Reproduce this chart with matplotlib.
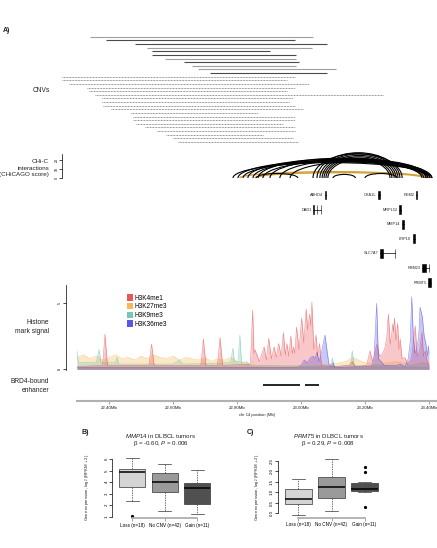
import numpy as np
import matplotlib.pyplot as plt
from matplotlib.patches import Arc, Patch

plt.rcParams['font.family'] = ['Liberation Sans', 'DejaVu Sans']
plt.rcParams['mathtext.fontset'] = 'custom'
plt.rcParams['mathtext.it'] = 'Liberation Sans:italic'
plt.rcParams['mathtext.rm'] = 'Liberation Sans'

W, H = 437, 548
XLIM = (22.30, 23.425)

# ---- panel A data (positions in Mb) ----
cnv_solid_start = [22.341, 22.391, 22.481, 22.519, 22.534, 22.534, 22.575, 22.634, 22.659, 22.678, 22.716]
cnv_solid_end = [23.038, 22.981, 23.081, 23.034, 22.903, 22.984, 22.984, 22.994, 22.984, 23.109, 23.081]
cnv_solid_type = ['gain', 'loss', 'loss', 'gain', 'loss', 'loss', 'gain', 'loss', 'gain', 'gain', 'loss']
cnv_dot_start = [22.253, 22.253, 22.275, 22.331, 22.338, 22.356, 22.378, 22.378, 22.381, 22.406,
                 22.469, 22.475, 22.475, 22.484, 22.513, 22.550, 22.578, 22.600, 22.616]
cnv_dot_end = [22.981, 22.956, 23.025, 22.981, 22.956, 23.256, 22.975, 22.963, 22.981, 23.006,
               22.866, 22.981, 22.981, 22.944, 22.981, 22.981, 22.881, 22.975, 22.991]

arc_start = [22.7875, 22.803, 22.819, 22.834, 22.850, 22.866, 22.881, 22.903, 22.934, 22.966,
             23.0375, 23.050, 23.059, 23.066, 23.072, 23.078, 23.084, 22.860, 23.100, 23.200]
arc_end = [23.409, 23.403, 23.397, 23.409, 23.391, 23.403, 23.384, 23.397, 23.391, 23.378,
           23.316, 23.309, 23.303, 23.297, 23.291, 23.284, 23.278, 22.990, 23.170, 23.300]
arc_score = [17, 19, 18, 21, 20, 22, 19, 21, 20, 18, 27, 28, 26.5, 25, 23.5, 22, 20.5, 5, 4, 5]
gold_start = [22.809, 22.856]
gold_end = [23.394, 23.3875]
gold_score = [7, 6]

gene_names = ['ABHD4', 'DAD1', 'OXA1L', 'REM2', 'MRPL52', 'MMP14', 'LRP10', 'SLC7A7', 'RBM23', 'PRMT5']
gene_start = [23.074, 23.038, 23.2416, 23.359, 23.307, 23.3145, 23.349, 23.2484, 23.378, 23.397]
gene_end = [23.079, 23.062, 23.247, 23.3635, 23.3115, 23.323, 23.355, 23.2950, 23.3995, 23.405]
gene_row = [0, 1, 0, 0, 1, 2, 3, 4, 5, 6]
gene_exons = [
    [(23.074, 0.005)],
    [(23.0380, 0.0015), (23.0485, 0.001), (23.0610, 0.001)],
    [(23.2416, 0.0054)],
    [(23.359, 0.0045)],
    [(23.307, 0.0045)],
    [(23.3145, 0.0085)],
    [(23.349, 0.006)],
    [(23.2484, 0.0076), (23.2935, 0.0015)],
    [(23.378, 0.012), (23.3985, 0.001)],
    [(23.397, 0.008)],
]

k4me1_pos = [22.300, 22.380, 22.3875, 22.395, 22.525, 22.533, 22.541, 22.687, 22.695, 22.703, 22.739, 22.747,
             22.755, 22.842, 22.849, 22.853, 22.856, 22.870, 22.878, 22.885, 22.892, 22.899, 22.908, 22.916,
             22.923, 22.930, 22.938, 22.945, 22.951, 22.956, 22.962, 22.968, 22.973, 22.977, 22.981, 22.986,
             22.994, 23.002, 23.009, 23.016, 23.021, 23.027, 23.031, 23.034, 23.040, 23.047, 23.052, 23.058,
             23.064, 23.100, 23.150, 23.160, 23.170, 23.205, 23.2156, 23.224, 23.237, 23.245, 23.255, 23.262,
             23.268, 23.273, 23.279, 23.283, 23.287, 23.289, 23.292, 23.297, 23.302, 23.306, 23.310, 23.316,
             23.325, 23.333, 23.345, 23.351, 23.357, 23.363, 23.371, 23.378, 23.383, 23.388, 23.395, 23.400]
k4me1_val = [0.2, 0.3, 2.67, 0.3, 0.3, 1.92, 0.3, 0.3, 2.3, 0.3, 0.3, 2.42,
             0.3, 0.4, 4.5, 1.2, 1.5, 0.6, 1.2, 1.71, 0.7, 2.35, 0.8, 1.71,
             0.9, 1.96, 1.0, 2.8, 1.1, 1.96, 1.0, 2.53, 1.2, 1.7, 1.2, 3.2,
             1.5, 3.9, 2.0, 4.6, 3.0, 4.2, 3.3, 5.1, 1.5, 2.6, 1.0, 1.96,
             0.3, 0.2, 0.3, 0.6, 0.2, 0.3, 1.4, 0.6, 1.92, 1.0, 1.2, 1.6,
             2.4, 4.2, 1.9, 2.6, 3.45, 2.8, 3.9, 2.2, 3.5, 1.5, 2.3, 0.8,
             0.9, 0.4, 0.8, 2.0, 3.3, 1.0, 1.4, 2.8, 1.0, 1.4, 0.5, 0.3]

k36me3_pos = [22.300, 22.990, 23.000, 23.010, 23.020, 23.030, 23.038, 23.044, 23.050, 23.056, 23.062, 23.068,
              23.075, 23.081, 23.087, 23.094, 23.100, 23.105, 23.220, 23.228, 23.2365, 23.242, 23.250, 23.260,
              23.300, 23.310, 23.325, 23.335, 23.341, 23.346, 23.351, 23.356, 23.362, 23.368, 23.372, 23.379,
              23.385, 23.390, 23.395, 23.398, 23.400]
k36me3_val = [0.15, 0.15, 0.3, 0.7, 0.5, 0.9, 1.0, 0.8, 1.3, 0.6, 1.0, 1.8,
              2.6, 1.5, 0.4, 0.2, 0.5, 0.15, 0.2, 0.8, 5.0, 0.8, 0.6, 0.3,
              0.3, 0.4, 0.2, 0.8, 2.0, 5.5, 2.5, 1.2, 1.6, 2.5, 4.7, 4.0,
              2.5, 2.0, 1.0, 1.8, 1.2]

k9me3_pos = [22.300, 22.304, 22.360, 22.369, 22.375, 22.420, 22.425, 22.430, 22.600, 22.620, 22.630, 22.780,
             22.787, 22.792, 22.803, 22.809, 22.814, 22.830, 22.840, 23.090, 23.098, 23.104, 23.155, 23.160,
             23.166, 23.400]
k9me3_val = [1.4, 0.5, 0.5, 1.5, 0.5, 0.5, 0.9, 0.4, 0.4, 0.7, 0.4, 0.5,
             1.6, 0.6, 0.6, 2.6, 0.5, 0.6, 0.3, 0.2, 0.85, 0.2, 0.3, 1.4,
             0.3, 0.2]

k27me3_pos = [22.30, 22.32, 22.34, 22.36, 22.38, 22.40, 22.42, 22.44, 22.46, 22.48, 22.50, 22.52, 22.54,
              22.56, 22.58, 22.60, 22.62, 22.64, 22.66, 22.68, 22.70, 22.72, 22.74, 22.76, 22.78, 22.80,
              22.82, 22.84, 22.86, 22.90, 23.00, 23.10, 23.14, 23.16, 23.18, 23.20, 23.22, 23.26, 23.30,
              23.34, 23.38, 23.40]
k27me3_val = [0.9, 1.1, 0.8, 1.0, 0.7, 0.9, 1.1, 0.8, 0.9, 0.7, 1.0, 0.8, 1.1,
              0.9, 0.8, 1.0, 0.7, 0.9, 0.8, 0.7, 0.9, 0.6, 0.8, 0.7, 0.9, 0.6,
              0.5, 0.4, 0.3, 0.3, 0.3, 0.4, 0.6, 0.9, 0.7, 0.5, 0.4, 0.5, 0.6,
              0.4, 0.6, 0.5]

enh_start = [22.882, 23.0125]
enh_end = [22.997, 23.057]
genome_ticks = [22.4, 22.6, 22.8, 23.0, 23.2, 23.4]

# ---- panels B and C data ----
groups = ['Loss (n=18)', 'No CNV (n=42)', 'Gain (n=11)']
box_colors = ['#d4d4d4', '#9a9a9a', '#505050']
mmp_q1 = [3.56, 3.12, 2.10]
mmp_med = [4.92, 4.00, 3.47]
mmp_q3 = [5.13, 4.84, 3.90]
mmp_lo = [2.37, 1.47, 1.20]
mmp_hi = [6.09, 5.60, 5.07]
mmp_fliers = [[1.07], [], []]
prmt_q1 = [0.44, 0.71, 1.08]
prmt_med = [0.67, 1.27, 1.17]
prmt_q3 = [1.14, 1.71, 1.43]
prmt_lo = [-0.10, 0.10, 1.00]
prmt_hi = [1.62, 2.57, 1.50]
prmt_fliers = [[], [], [2.22, 1.97, 0.31]]

TXT = '#222222'
PT = 0.72  # points per pixel at dpi 100


def px_axes(fig, x0, y0, x1, y1):
    ax = fig.add_axes([x0 / W, 1 - y1 / H, (x1 - x0) / W, (y1 - y0) / H])
    ax.patch.set_alpha(0)
    return ax


def bare(ax):
    for s in ax.spines.values():
        s.set_visible(False)
    ax.set_xticks([])
    ax.set_yticks([])


fig = plt.figure(figsize=(W / 100, H / 100), dpi=100)

fig.text(3 / W, 1 - 30 / H, 'A)', fontsize=5, fontweight='bold', va='center', color=TXT)

# CNVs
ax = px_axes(fig, 77, 30, 437, 150)
bare(ax)
ax.set_xlim(XLIM)
ax.set_ylim(31.2, -1.85)
for i, (s, e, t) in enumerate(zip(cnv_solid_start, cnv_solid_end, cnv_solid_type)):
    ax.plot([s, e], [i, i], color='#a0a0a0' if t == 'gain' else '#4a4a4a', lw=0.8,
            solid_capstyle='butt', clip_on=False)
n0 = len(cnv_solid_start)
for i, (s, e) in enumerate(zip(cnv_dot_start, cnv_dot_end)):
    ax.plot([s, e], [n0 + i, n0 + i], color='#555555', lw=0.5, ls=(0, (1.2, 1.0)), clip_on=False)
fig.text(50 / W, 1 - 90 / H, 'CNVs', fontsize=4.8, ha='right', va='center', color=TXT)

# CHi-C interactions
ax = px_axes(fig, 77, 150, 437, 180)
ax.set_xlim(XLIM)
ax.set_ylim(-2.2, 31)
for s in ['top', 'right', 'bottom']:
    ax.spines[s].set_visible(False)
ax.spines['left'].set_position(('outward', 15 * PT))
ax.spines['left'].set_bounds(0, 27)
ax.spines['left'].set_linewidth(0.5)
ax.set_xticks([])
ax.set_yticks([0, 10, 20])
ax.tick_params(axis='y', length=2, width=0.5, pad=0.6, labelsize=2.6, labelrotation=90)
for s, e, h in zip(gold_start, gold_end, gold_score):
    ax.add_patch(Arc(((s + e) / 2, 0), e - s, 2 * h, theta1=0, theta2=180, color='#d0a030', lw=1.0))
for s, e, h in zip(arc_start, arc_end, arc_score):
    ax.add_patch(Arc(((s + e) / 2, 0), e - s, 2 * h, theta1=0, theta2=180, color='black', lw=0.8))
fig.text(49 / W, 1 - 168 / H, 'CHi-C\ninteractions\n(CHiCAGO score)', fontsize=4.5, ha='right',
         va='center', linespacing=1.3, color=TXT)

# genes
ax = px_axes(fig, 77, 185, 437, 290)
bare(ax)
ax.set_xlim(XLIM)
ax.set_ylim(6.5, -0.685)
for name, s, e, r, ex in zip(gene_names, gene_start, gene_end, gene_row, gene_exons):
    ax.plot([s, e], [r, r], color='black', lw=0.5)
    ax.broken_barh(ex, (r - 0.3, 0.6), facecolors='black', edgecolors='black', linewidth=0.4)
    ax.text(s - 0.005, r, name, fontsize=2.8, ha='right', va='center', color=TXT)

# histone marks
ax = px_axes(fig, 77, 285, 437, 370)
ax.set_xlim(XLIM)
ax.set_ylim(-0.05, 6.39)
for s in ['top', 'right', 'bottom']:
    ax.spines[s].set_visible(False)
ax.spines['left'].set_position(('outward', 11 * PT))
ax.spines['left'].set_linewidth(0.5)
ax.set_xticks([])
ax.set_yticks([0, 5])
ax.tick_params(axis='y', length=2, width=0.5, pad=0.8, labelsize=2.8, labelrotation=90)
tracks = [(k27me3_pos, k27me3_val, '#f5ad3a', 'H3K27me3'),
          (k9me3_pos, k9me3_val, '#5cbfa8', 'H3K9me3'),
          (k4me1_pos, k4me1_val, '#e8383d', 'H3K4me1'),
          (k36me3_pos, k36me3_val, '#3a3ae0', 'H3K36me3')]
for pos, val, c, lab in tracks:
    ax.fill_between(pos, 0, val, color=c, alpha=0.28, lw=0)
    ax.plot(pos, val, color=c, lw=0.4, alpha=0.6)
leg_order = [2, 0, 1, 3]
handles = [Patch(facecolor=tracks[i][2], alpha=0.85) for i in leg_order]
ax.legend(handles, [tracks[i][3] for i in leg_order], loc='upper left',
          bbox_to_anchor=((124 - 77) / 360, (370 - 291) / 85), frameon=False, fontsize=4.7,
          borderpad=0, handlelength=0.9, handleheight=1.1, handletextpad=0.15, labelspacing=0.2)
fig.text(49 / W, 1 - 327 / H, 'Histone\nmark signal', fontsize=4.8, ha='right', va='center',
         linespacing=1.25, color=TXT)

# BRD4 enhancer
ax = px_axes(fig, 77, 375, 437, 395)
bare(ax)
ax.set_xlim(XLIM)
ax.set_ylim(-1, 1)
ax.hlines([0] * len(enh_start), enh_start, enh_end, color='black', lw=1.2)
fig.text(49 / W, 1 - 386 / H, 'BRD4-bound\nenhancer', fontsize=4.8, ha='right', va='center',
         linespacing=1.25, color=TXT)

# genome axis
ax = px_axes(fig, 77, 394, 437, 400.7)
ax.set_xlim(XLIM)
for s in ['top', 'right', 'left']:
    ax.spines[s].set_visible(False)
ax.spines['bottom'].set_color('#b0b0b0')
ax.spines['bottom'].set_linewidth(1.5)
ax.set_yticks([])
ax.set_xticks(genome_ticks)
ax.set_xticklabels([f'{v:.2f}Mb' for v in genome_ticks])
ax.tick_params(axis='x', length=2, width=0.5, color='#808080', pad=1.5, labelsize=3.2, labelcolor=TXT)
ax.set_xlabel('chr 14 position (Mb)', fontsize=3, labelpad=2.5, color=TXT)


# boxplots
def box_panel(x0, y0, x1, y1, ylim, yticks, ytlabels, q1, med, q3, lo, hi, fl, ylab_x):
    ax = px_axes(fig, x0, y0, x1, y1)
    stats = [dict(q1=a, med=b, q3=c, whislo=d, whishi=e, fliers=f)
             for a, b, c, d, e, f in zip(q1, med, q3, lo, hi, fl)]
    bp = ax.bxp(stats, positions=[1, 2, 3], widths=0.8, capwidths=0.4, patch_artist=True,
                boxprops=dict(lw=0.5, edgecolor='#333333'),
                medianprops=dict(color='black', lw=1.1, solid_capstyle='butt'),
                whiskerprops=dict(lw=0.5, ls=(0, (2, 1.5)), color='#333333'),
                capprops=dict(lw=0.5, color='#333333'),
                flierprops=dict(marker='o', markersize=1.3, markerfacecolor='black',
                                markeredgecolor='black'))
    for patch, c in zip(bp['boxes'], box_colors):
        patch.set_facecolor(c)
    ax.set_xlim(0.38, 3.62)
    ax.set_ylim(*ylim)
    for s in ['top', 'right']:
        ax.spines[s].set_visible(False)
    ax.spines['left'].set_bounds(yticks[0], yticks[-1])
    ax.spines['left'].set_linewidth(0.5)
    ax.spines['bottom'].set_bounds(1, 3)
    ax.spines['bottom'].set_color('#a8a8a8')
    ax.spines['bottom'].set_linewidth(1.2)
    ax.set_yticks(yticks)
    ax.set_yticklabels(ytlabels)
    ax.set_xticks([1, 2, 3])
    ax.set_xticklabels(groups)
    ax.tick_params(axis='y', length=2, width=0.5, pad=0.8, labelsize=3.2, labelrotation=90)
    ax.tick_params(axis='x', length=2, width=0.5, color='#808080', pad=1.5, labelsize=3.3)
    for t in ax.get_yticklabels():
        t.set_va('center')
    ax.set_ylabel('Gene expression, log$_2$ (RPKM + 2)', fontsize=3.1, color=TXT)
    ax.yaxis.set_label_coords((ylab_x - x0) / (x1 - x0), 0.5)
    return ax


box_panel(112.35, 455.9, 217.6, 518.2, (0.87, 6.29), [1, 2, 3, 4, 5, 6], ['1', '2', '3', '4', '5', '6'],
          mmp_q1, mmp_med, mmp_q3, mmp_lo, mmp_hi, mmp_fliers, 91)
box_panel(278, 457.1, 385, 517.6, (-0.207, 2.677), [0, 0.5, 1.0, 1.5, 2.0, 2.5],
          ['0.0', '0.5', '1.0', '1.5', '2.0', '2.5'],
          prmt_q1, prmt_med, prmt_q3, prmt_lo, prmt_hi, prmt_fliers, 261)

fig.text(82 / W, 1 - 432.7 / H, 'B)', fontsize=5, fontweight='bold', va='center', color=TXT)
fig.text(247 / W, 1 - 432.7 / H, 'C)', fontsize=5, fontweight='bold', va='center', color=TXT)
fig.text(161 / W, 1 - 435.7 / H, '$\\mathit{MMP14}$ in DLBCL tumors', fontsize=4.4, ha='center',
         va='center', color=TXT)
fig.text(161 / W, 1 - 443.3 / H, 'β = -0.60, $\\mathit{P}$ = 0.006', fontsize=4.4, ha='center',
         va='center', color=TXT)
fig.text(328 / W, 1 - 435.7 / H, '$\\mathit{PRMT5}$ in DLBCL tumors', fontsize=4.4, ha='center',
         va='center', color=TXT)
fig.text(328 / W, 1 - 443.3 / H, 'β = 0.29, $\\mathit{P}$ = 0.008', fontsize=4.4, ha='center',
         va='center', color=TXT)

fig.savefig('out.png', dpi=100)
